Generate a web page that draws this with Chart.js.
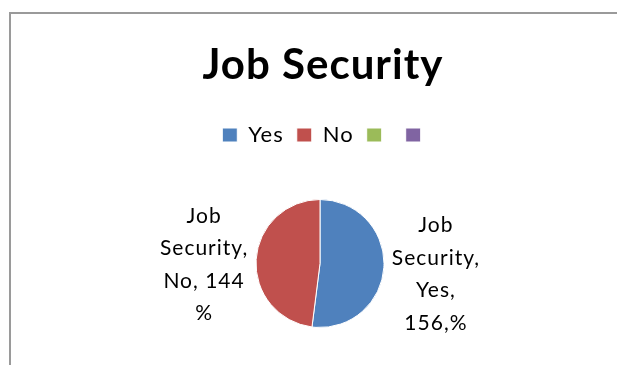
<!DOCTYPE html>
<html>
<head>
<meta charset="utf-8">
<script src="https://cdn.jsdelivr.net/npm/chart.js@4.4.1/dist/chart.umd.min.js"></script>
<style>
  html, body { margin: 0; padding: 0; background: #fff; overflow: hidden; width: 617px; height: 365px; }
  #frame {
    position: absolute; left: 9px; top: 12px; width: 608px; height: 353px;
    border-left: 2px solid #9a9a9a; border-top: 2px solid #9a9a9a; overflow: hidden;
  }
  #jobChart { position: absolute; left: 0; top: 0; }
</style>
</head>
<body>
<div id="frame">
  <canvas id="jobChart" width="618" height="390"></canvas>
</div>
<script>
// Chart data
const seriesName = 'Job Security';
const categories = ['Yes', 'No', '', ''];
const values = [156, 144, 0, 0];
// data label texts as shown in the chart (one array of lines per slice)
const labelLines = [
  ['Job', 'Security,', 'Yes,', '156,%'],
  ['Job', 'Security,', 'No, 144', '%']
];

const sliceColors = ['#4F81BD', '#C0504D', '#9BBB59', '#8064A2'];
const FONT = 'Lato, "Open Sans", sans-serif';

// the original text is a little letter-spaced; title and legend sit a bit right of centre
const spacing = {
  id: 'spacing',
  beforeUpdate(chart) { chart.ctx.letterSpacing = '1px'; },
  afterLayout(chart) {
    chart.legend.left += 7;
    chart.legend.right += 7;
    chart.titleBlock.left += 3;
    chart.titleBlock.right += 3;
  },
  beforeDraw(chart) { chart.ctx.letterSpacing = '1px'; }
};

// Outside data labels, placed from each arc's angle
const outsideLabels = {
  id: 'outsideLabels',
  afterDatasetsDraw(chart) {
    const { ctx } = chart;
    const meta = chart.getDatasetMeta(0);
    ctx.save();
    ctx.font = '21px ' + FONT;
    ctx.letterSpacing = '1px';
    ctx.fillStyle = '#000';
    ctx.textAlign = 'center';
    ctx.textBaseline = 'middle';
    meta.data.forEach((arc, i) => {
      const lines = labelLines[i];
      if (!lines || !values[i]) return;
      const mid = (arc.startAngle + arc.endAngle) / 2;
      const dx = Math.cos(mid), dy = Math.sin(mid);
      const ax = arc.x + dx * (arc.outerRadius + 8);
      const ay = arc.y + dy * (arc.outerRadius + 8);
      const maxW = Math.max(...lines.map(l => ctx.measureText(l).width));
      const cx = dx >= 0 ? ax + maxW / 2 : ax - maxW / 2;
      const lh = 32.5;
      const top = ay + 6 - lh * (lines.length - 1) / 2;
      lines.forEach((l, j) => ctx.fillText(l, cx, top + j * lh));
    });
    ctx.restore();
  }
};

new Chart(document.getElementById('jobChart'), {
  type: 'pie',
  data: {
    labels: categories,
    datasets: [{
      label: seriesName,
      data: values,
      backgroundColor: sliceColors,
      borderColor: '#ffffff',
      borderWidth: 1,
      radius: 64
    }]
  },
  options: {
    responsive: false,
    devicePixelRatio: 1,
    animation: false,
    layout: { padding: { bottom: 33 } },
    plugins: {
      title: {
        display: true,
        text: seriesName,
        color: '#000',
        font: { family: FONT, size: 42, weight: 'bold', lineHeight: 1 },
        padding: { top: 30, bottom: 25 }
      },
      legend: {
        position: 'top',
        labels: {
          color: '#000',
          font: { family: FONT, size: 22 },
          boxWidth: 15,
          boxHeight: 14,
          padding: 13
        }
      },
      tooltip: { enabled: false }
    }
  },
  plugins: [spacing, outsideLabels]
});
</script>
</body>
</html>
